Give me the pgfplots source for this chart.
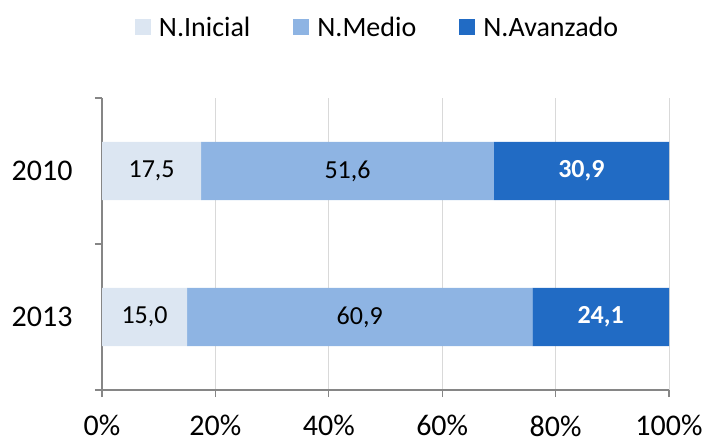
\documentclass[border=0pt]{standalone}
\usepackage{fontspec}
\setmainfont{Carlito}
\usepackage{pgfplots}
\pgfplotsset{compat=1.18}
\usepackage{pgfplotstable}
\definecolor{cini}{RGB}{220,230,242}
\definecolor{cmed}{RGB}{142,180,227}
\definecolor{cava}{RGB}{33,107,196}
\definecolor{axgray}{RGB}{134,134,134}
\definecolor{gridgray}{RGB}{217,217,217}
\pgfplotstableread{
y ini inil med medl ava aval
1 17.5 17,5 51.6 51,6 30.9 30,9
0 15.0 15,0 60.9 60,9 24.1 24,1
}\data
\begin{document}
\begin{tikzpicture}
\useasboundingbox (0,0) rectangle (707bp,441bp);
\begin{axis}[
  at={(102bp,51bp)}, anchor=south west,
  scale only axis, width=567bp, height=292bp,
  xbar stacked, bar width=0.4,
  xmin=0, xmax=100, ymin=-0.5, ymax=1.5,
  axis x line*=bottom, axis y line*=left,
  axis line style={draw=axgray, line width=1.3bp, -},
  xtick={0,20,...,100}, xticklabels={0\%,20\%,40\%,60\%,80\%,100\%},
  xmajorgrids, major grid style={draw=gridgray, line width=1bp},
  ytick={-0.5,0.5,1.5}, yticklabels={},
  extra y ticks={0,1}, extra y tick labels={2013,2010},
  extra y tick style={major tick length=0pt, grid=none},
  tick align=outside, major tick length=7bp,
  tick style={draw=axgray, line width=1.3bp},
  /pgf/number format/assume math mode=true,
  ticklabel style={font=\fontsize{30bp}{36bp}\selectfont},
  xticklabel style={yshift=-15bp},
  yticklabel style={xshift=-26bp},
  legend columns=3,
  legend style={at={(0.486,1.243)}, anchor=center, draw=none,
    font=\fontsize{28bp}{32bp}\selectfont,
    /tikz/every odd column/.append style={column sep=6bp},
    /tikz/every even column/.append style={column sep=41bp}},
  legend image code/.code={\fill[#1] (0bp,-8bp) rectangle (16bp,8bp);},
  point meta=explicit symbolic,
  nodes near coords,
]
\addplot[fill=cini, draw=none,
  every node near coord/.append style={anchor=center, text=black, font=\fontsize{26bp}{30bp}\selectfont}]
  table[x=ini, y=y, meta=inil]{\data};
\addplot[fill=cmed, draw=none,
  every node near coord/.append style={anchor=center, text=black, font=\fontsize{26bp}{30bp}\selectfont}]
  table[x=med, y=y, meta=medl]{\data};
\addplot[fill=cava, draw=none,
  every node near coord/.append style={anchor=center, text=white, font=\fontsize{26bp}{30bp}\selectfont\bfseries}]
  table[x=ava, y=y, meta=aval]{\data};
\legend{N.Inicial, N.Medio, N.Avanzado}
\end{axis}
\end{tikzpicture}
\end{document}
